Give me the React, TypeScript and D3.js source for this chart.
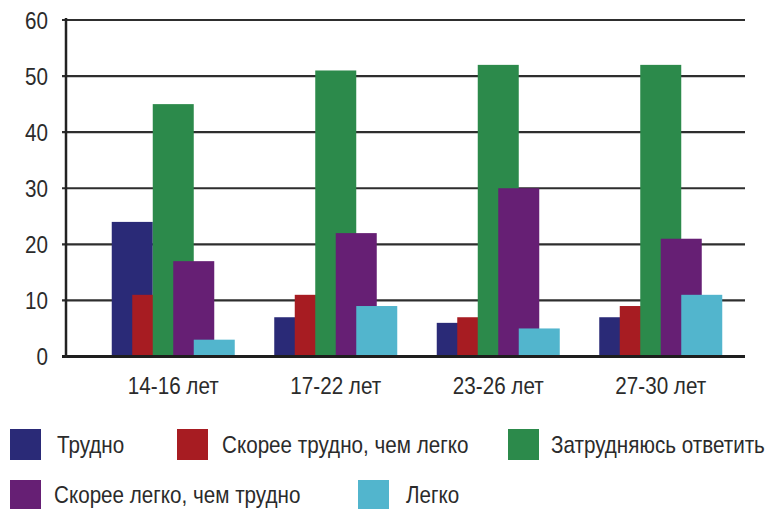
import React from "react";
import * as d3 from "d3";

const categories = ["14-16 лет", "17-22 лет", "23-26 лет", "27-30 лет"];
const seriesNames = [
  "Трудно",
  "Скорее трудно, чем легко",
  "Затрудняюсь ответить",
  "Скорее легко, чем трудно",
  "Легко",
];
const trudno = [24, 7, 6, 7];
const skoreeTrudno = [11, 11, 7, 9];
const zatrudnyayus = [45, 51, 52, 52];
const skoreeLegko = [17, 22, 30, 21];
const legko = [3, 9, 5, 11];
const yTicks = [0, 10, 20, 30, 40, 50, 60];

const seriesValues = [trudno, skoreeTrudno, zatrudnyayus, skoreeLegko, legko];
const colors = ["#2a2a77", "#a71c22", "#2c8a4b", "#661f74", "#52b5cd"];

const FONT = "'Liberation Sans', Arial, sans-serif";
const SQUEEZE = 0.86;

export default function App() {
  const W = 769;
  const H = 509;
  const plotRight = 745;
  const y = d3.scaleLinear().domain([0, 60]).range([356.5, 20]);
  const x0 = d3.scaleBand<string>().domain(categories).range([92, 742]).padding(0);
  const x1 = d3.scalePoint<string>().domain(seriesNames).range([-61.5, 20.5]);
  const barW = 41;

  const legendItems = [
    { i: 0, sx: 10, sy: 429, tx: 57, ty: 453 },
    { i: 1, sx: 177, sy: 429, tx: 222, ty: 453 },
    { i: 2, sx: 508, sy: 429, tx: 551, ty: 453 },
    { i: 3, sx: 10, sy: 480, tx: 54, ty: 503 },
    { i: 4, sx: 358, sy: 480, tx: 406, ty: 503 },
  ];

  return (
    <svg width={W} height={H} style={{ position: "absolute", left: 0, top: 0, background: "#fff" }}>
      {yTicks.filter((t) => t !== 0).map((t) => (
        <line key={t} x1={62} x2={plotRight} y1={y(t)} y2={y(t)} stroke="#2e2e2e" strokeWidth={2.2} />
      ))}
      {categories.map((c, ci) =>
        seriesNames.map((s, si) => {
          const v = seriesValues[si][ci];
          const cx = (x0(c) as number) + x0.bandwidth() / 2;
          const bx = cx + (x1(s) as number);
          return (
            <rect key={c + s} x={bx} y={y(v)} width={barW} height={y(0) - y(v)} fill={colors[si]} />
          );
        })
      )}
      <line x1={62} x2={plotRight} y1={y(0)} y2={y(0)} stroke="#1e1e1e" strokeWidth={3} />
      <line x1={66} x2={66} y1={18} y2={358} stroke="#222" strokeWidth={2.5} />
      {yTicks.map((t) => (
        <text
          key={t}
          transform={`translate(48,${y(t)}) scale(${SQUEEZE},1)`}
          dy="0.36em"
          textAnchor="end"
          fontFamily={FONT}
          fontSize={24}
          fill="#2b2b2b"
        >
          {t}
        </text>
      ))}
      {categories.map((c) => (
        <text
          key={c}
          transform={`translate(${(x0(c) as number) + x0.bandwidth() / 2},394) scale(${SQUEEZE},1)`}
          textAnchor="middle"
          fontFamily={FONT}
          fontSize={24}
          fill="#2b2b2b"
        >
          {c}
        </text>
      ))}
      {legendItems.map((l) => (
        <g key={l.i}>
          <rect x={l.sx} y={l.sy} width={31} height={31} fill={colors[l.i]} />
          <text
            transform={`translate(${l.tx},${l.ty}) scale(${SQUEEZE},1)`}
            fontFamily={FONT}
            fontSize={24}
            fill="#2b2b2b"
          >
            {seriesNames[l.i]}
          </text>
        </g>
      ))}
    </svg>
  );
}
